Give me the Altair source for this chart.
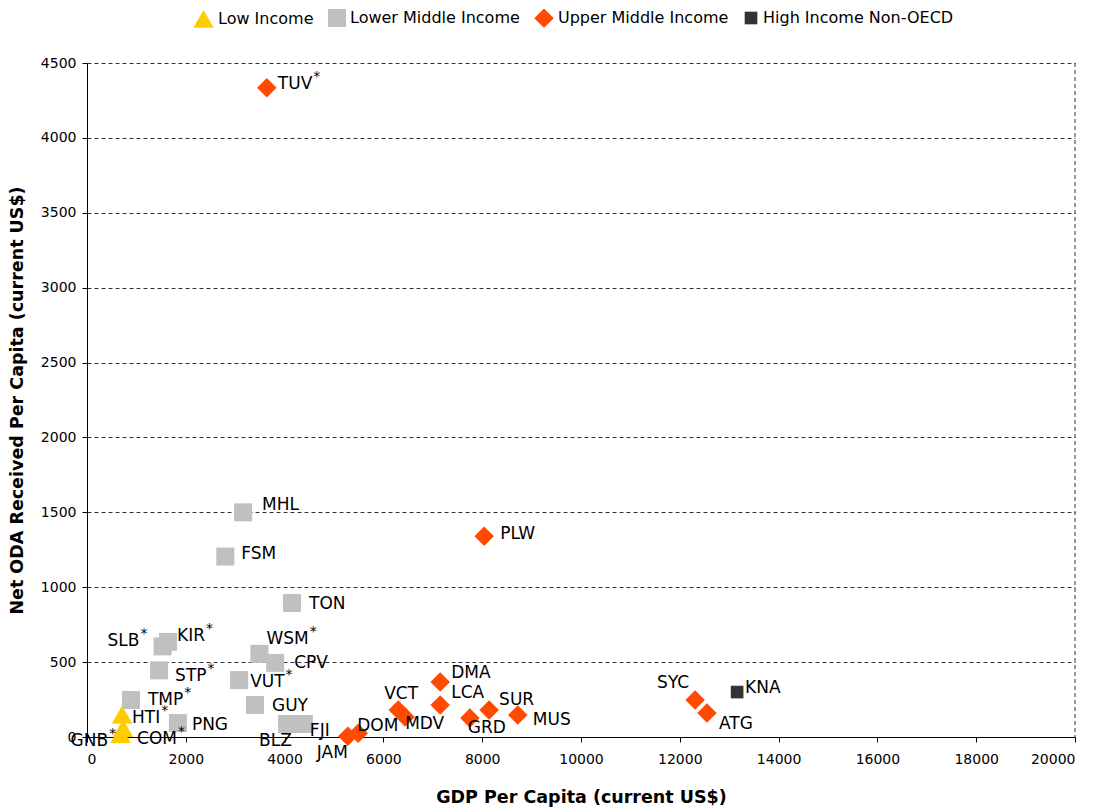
import altair as alt
import pandas as pd

codes = ["TUV", "MHL", "FSM", "TON", "PLW", "SLB", "KIR", "WSM", "CPV", "STP",
         "VUT", "TMP", "GUY", "PNG", "BLZ", "FJI", "HTI", "COM", "GNB", "JAM",
         "DOM", "VCT", "MDV", "DMA", "LCA", "GRD", "SUR", "MUS", "SYC", "ATG", "KNA"]
gdp = [3640, 3160, 2800, 4150, 8040, 1530, 1640, 3490, 3810, 1460,
       3080, 890, 3400, 1840, 4050, 4390, 710, 730, 680, 5280,
       5490, 6300, 6440, 7150, 7150, 7750, 8140, 8720, 12310, 12550, 13160]
oda = [4335, 1500, 1205, 895, 1340, 605, 635, 555, 495, 445,
       380, 247, 214, 93, 87, 87, 150, 60, 20, 5,
       25, 180, 134, 367, 214, 127, 180, 147, 247, 160, 300]
group = ["Upper Middle Income", "Lower Middle Income", "Lower Middle Income", "Lower Middle Income",
         "Upper Middle Income", "Lower Middle Income", "Lower Middle Income", "Lower Middle Income",
         "Lower Middle Income", "Lower Middle Income", "Lower Middle Income", "Lower Middle Income",
         "Lower Middle Income", "Lower Middle Income", "Lower Middle Income", "Lower Middle Income",
         "Low Income", "Low Income", "Low Income", "Upper Middle Income",
         "Upper Middle Income", "Upper Middle Income", "Upper Middle Income", "Upper Middle Income",
         "Upper Middle Income", "Upper Middle Income", "Upper Middle Income", "Upper Middle Income",
         "Upper Middle Income", "Upper Middle Income", "High Income Non-OECD"]
starred = ["TUV", "SLB", "KIR", "WSM", "STP", "VUT", "TMP", "HTI", "COM", "GNB"]
# label placement (pixels from marker centre to label's left-middle)
label_dx = [11, 19, 16, 17, 16, -55, 9, 7, 19, 16,
            11, 17, 17, 14, -28, 6, 10, 14, -50, -31,
            -1, -14, 0, 11, 11, -2, 10, 15, -38, 12, 8]
label_dy = [-4, -7, -3, 1, -2, -5, -6, -15, 0, 6,
            2, 0, 1, 2, 17, 7, 3, 11, 7, 17,
            -7, -16, 7, -9, -12, 10, -10, 5, -17, 11, -4]

groups = ["Low Income", "Lower Middle Income", "Upper Middle Income", "High Income Non-OECD"]
colors = ["#FFCC00", "#C0C0C0", "#FF4A00", "#333333"]
shapes = ["triangle-up", "square", "diamond", "square"]
sizes = [420, 324, 380, 160]

FONT = "DejaVu Sans"
LABEL_SIZE = 17
char_w = {"A": .684, "B": .686, "C": .698, "D": .770, "E": .632, "F": .575, "G": .775,
          "H": .752, "I": .295, "J": .295, "K": .656, "L": .557, "M": .863, "N": .748,
          "O": .787, "P": .603, "R": .695, "S": .635, "T": .611, "U": .732, "V": .684,
          "W": .989, "Y": .611, "Z": .685}

df = pd.DataFrame({"code": codes, "gdp": gdp, "oda": oda, "group": group})

xs = alt.Scale(domain=[0, 20000], nice=False)
ys = alt.Scale(domain=[0, 4500], nice=False)

X = alt.X("gdp:Q", scale=xs, title="GDP Per Capita (current US$)",
          axis=alt.Axis(values=list(range(0, 20001, 2000)), format="d", grid=False,
                        labelPadding=10, titlePadding=22))
Y = alt.Y("oda:Q", scale=ys, title="Net ODA Received Per Capita (current US$)",
          axis=alt.Axis(values=list(range(0, 4501, 500)), format="d", grid=True,
                        gridDash=[4, 3], gridColor="#333333", titlePadding=14))

points = alt.Chart(df).mark_point(filled=True, opacity=1, strokeWidth=0).encode(
    x=X, y=Y,
    color=alt.Color("group:N", scale=alt.Scale(domain=groups, range=colors),
                    legend=alt.Legend(title=None)),
    shape=alt.Shape("group:N", scale=alt.Scale(domain=groups, range=shapes),
                    legend=alt.Legend(title=None)),
    size=alt.Size("group:N", scale=alt.Scale(type="ordinal", domain=groups, range=sizes),
                  legend=None),
)

text_layers = []
for code, dx, dy in zip(codes, label_dx, label_dy):
    base = alt.Chart(df).transform_filter(alt.datum.code == code)
    text_layers.append(
        base.mark_text(align="left", baseline="middle", font=FONT, fontSize=LABEL_SIZE,
                       color="#000000", dx=dx, dy=dy).encode(
            x=alt.X("gdp:Q", scale=xs), y=alt.Y("oda:Q", scale=ys), text="code:N"))
    if code in starred:
        sdx = dx + sum(char_w.get(ch, .65) for ch in code) * LABEL_SIZE + 1
        text_layers.append(
            base.mark_text(align="left", baseline="middle", font=FONT, fontSize=14,
                           color="#000000", dx=sdx, dy=dy - 7, text="*").encode(
                x=alt.X("gdp:Q", scale=xs), y=alt.Y("oda:Q", scale=ys)))

border = alt.Chart(pd.DataFrame({"edge": [20000]})).mark_rule(
    strokeDash=[4, 3], color="#333333", strokeWidth=1).encode(
    x=alt.X("edge:Q", scale=xs))

chart = alt.layer(border, points, *text_layers).properties(
    width=988, height=674,
    autosize=alt.AutoSizeParams(type="none"),
    padding={"left": 79, "top": 55, "right": 20, "bottom": 72},
    background="white",
).configure_view(stroke=None).configure_axis(
    domainColor="#000000", tickColor="#000000", tickSize=5,
    labelFont=FONT, labelFontSize=14, labelColor="#000000", labelPadding=6,
    titleFont=FONT, titleFontSize=17.5, titleFontWeight="bold", titleColor="#000000",
).configure_legend(
    orient="none", legendX=106, legendY=-55, direction="horizontal",
    labelFont=FONT, labelFontSize=16, labelColor="#000000", symbolSize=130,
    symbolStrokeWidth=0, columnPadding=14, labelOffset=4, labelLimit=0,
)

chart.save("out.html", embed_options={"renderer": "svg", "actions": False})
